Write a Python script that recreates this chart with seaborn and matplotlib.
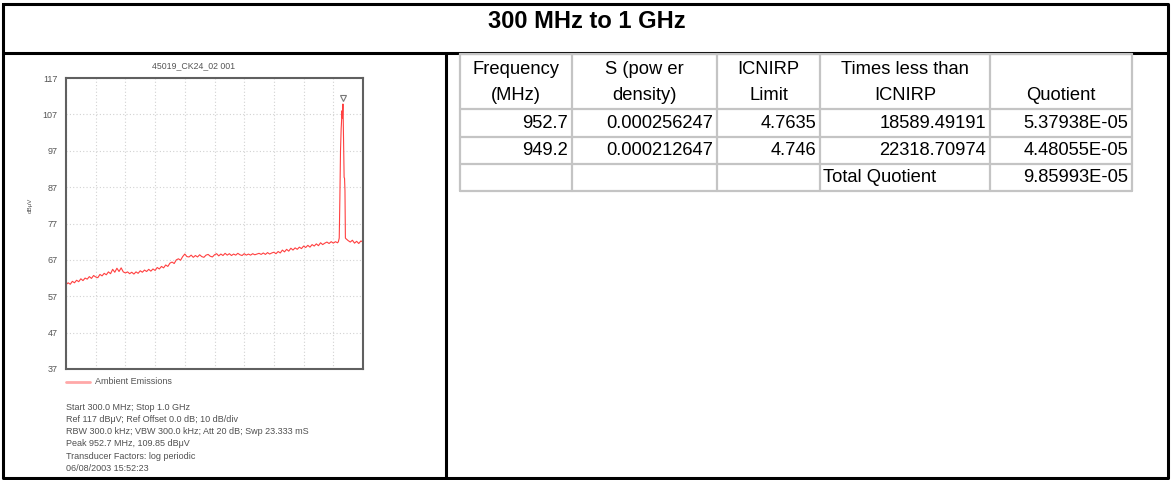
import matplotlib

matplotlib.use("Agg")
import matplotlib.pyplot as plt
import numpy as np
import pandas as pd
import seaborn as sns

W, H = 1171, 480

# spectrum trace, 5 MHz sweep steps from 300 to 940 MHz
sweep_start, sweep_step = 300, 5
base_levels = [
    60.2, 60.7, 60.3, 61.1, 60.7, 61.4, 61.0, 61.8, 61.3, 62.0,
    61.7, 62.4, 61.9, 62.7, 62.3, 62.1, 63.0, 62.6, 63.3, 62.9,
    63.7, 63.2, 64.4, 63.6, 64.7, 63.8, 64.8, 63.7, 63.4, 63.7,
    63.2, 63.6, 63.1, 63.7, 63.3, 64.0, 63.6, 64.2, 63.8, 64.4,
    63.9, 64.5, 64.1, 64.9, 64.5, 65.2, 64.8, 65.6, 65.2, 66.1,
    66.4, 66.0, 67.0, 67.3, 66.9, 67.9, 68.6, 67.9, 67.8, 68.3,
    67.7, 68.2, 67.8, 68.4, 67.9, 67.7, 68.3, 68.5, 68.0, 67.8,
    68.4, 68.7, 68.1, 68.6, 68.2, 68.8, 68.3, 68.7, 68.2, 68.6,
    68.3, 68.8, 68.4, 68.2, 68.7, 68.3, 68.6, 68.3, 68.7, 68.4,
    68.6, 68.8, 68.5, 68.9, 68.5, 69.0, 68.6, 68.9, 69.1, 68.7,
    69.3, 68.9, 69.7, 69.2, 69.9, 69.4, 70.2, 69.7, 70.3, 69.9,
    70.5, 70.1, 70.8, 70.4, 71.0, 70.5, 71.2, 70.8, 71.4, 70.9,
    71.7, 71.2, 71.6, 71.9, 71.5, 72.0, 71.6, 72.0, 71.7,
]
base_freqs = [sweep_start + sweep_step * i for i in range(len(base_levels))]

# peak region and top of band
peak_freqs = [942, 944, 945.5, 947, 948.5, 949.2, 950.5, 951.5, 952.7, 953.5, 954.5,
              955.5, 956.5, 957.5, 958.5, 960, 965, 970, 975, 980, 985, 990, 995, 1000]
peak_levels = [72.0, 73.0, 84.0, 97.0, 103.0, 104.5, 108.0, 106.0, 109.85, 105.0, 97.0,
               89.7, 89.4, 86.0, 73.0, 72.8, 72.3, 71.9, 72.4, 71.6, 72.1, 71.5,
               72.2, 71.9]

marker_freq, marker_level = 952.7, 111.6

y_ticks = [37, 47, 57, 67, 77, 87, 97, 107, 117]

trace_name = "45019_CK24_02 001"
legend_label = "Ambient Emissions"
info_lines = [
    "Start 300.0 MHz; Stop 1.0 GHz",
    "Ref 117 dB\u03bcV; Ref Offset 0.0 dB; 10 dB/div",
    "RBW 300.0 kHz; VBW 300.0 kHz; Att 20 dB; Swp 23.333 mS",
    "Peak 952.7 MHz, 109.85 dB\u03bcV",
    "Transducer Factors: log periodic",
    "06/08/2003 15:52:23",
]

# results table
headers = ["Frequency\n(MHz)", "S (pow er\ndensity)", "ICNIRP\nLimit",
           "Times less than\nICNIRP", "Quotient"]
freq_col = ["952.7", "949.2"]
s_col = ["0.000256247", "0.000212647"]
limit_col = ["4.7635", "4.746"]
times_col = ["18589.49191", "22318.70974"]
quot_col = ["5.37938E-05", "4.48055E-05"]
total_label = "Total Quotient"
total_value = "9.85993E-05"

sns.set_style("white")
plt.rcParams["font.family"] = ["Liberation Sans", "DejaVu Sans"]
plt.rcParams["text.color"] = "black"

fig = plt.figure(figsize=(W / 100, H / 100), dpi=100)

# background axes in pixel coordinates for frame and table
bg = fig.add_axes([0, 0, 1, 1])
bg.set_xlim(0, W)
bg.set_ylim(H, 0)
bg.axis("off")

# outer frame
bg.plot([3, 1168, 1168, 3, 3], [4, 4, 478, 478, 4], color="black", lw=2.2)
bg.plot([3, 1168], [53, 53], color="black", lw=2.2)
bg.plot([446, 446], [53, 478], color="black", lw=2.2)
bg.text(587, 21, "300 MHz to 1 GHz", ha="center", va="center",
        fontsize=17, fontweight="bold", color="black")

# table grid
col_x = [460, 572, 717, 820, 990, 1132]
row_y = [54, 109, 137, 164, 191]
grid_c = "#c4c4c4"
for x in col_x:
    bg.plot([x, x], [row_y[0], row_y[-1]], color=grid_c, lw=1.6)
for y in row_y:
    bg.plot([col_x[0], col_x[-1]], [y, y], color=grid_c, lw=1.6)

tfs = 13.2
for i, h in enumerate(headers):
    cx = (col_x[i] + col_x[i + 1]) / 2
    lines = h.split("\n")
    if len(lines) == 2:
        bg.text(cx, 69, lines[0], ha="center", va="center", fontsize=tfs)
        bg.text(cx, 95, lines[1], ha="center", va="center", fontsize=tfs)
    else:
        bg.text(cx, 95, lines[0], ha="center", va="center", fontsize=tfs)

columns = [freq_col, s_col, limit_col, times_col, quot_col]
for r in range(2):
    cy = (row_y[r + 1] + row_y[r + 2]) / 2
    for c, col in enumerate(columns):
        bg.text(col_x[c + 1] - 4, cy, col[r], ha="right", va="center", fontsize=tfs)
cy = (row_y[3] + row_y[4]) / 2
bg.text(col_x[3] + 3, cy, total_label, ha="left", va="center", fontsize=tfs)
bg.text(col_x[5] - 4, cy, total_value, ha="right", va="center", fontsize=tfs)

# spectrum plot
left, right, top, bottom = 66, 363, 78, 369
ax = fig.add_axes([left / W, 1 - bottom / H, (right - left) / W, (bottom - top) / H])
df = pd.DataFrame({"freq": base_freqs + peak_freqs, "level": base_levels + peak_levels})
sns.lineplot(data=df, x="freq", y="level", ax=ax, color="#ff4040", lw=0.8,
             estimator=None, sort=False)
ax.plot([marker_freq], [marker_level], marker="v", ms=4.5, mfc="white",
        mec="#777777", mew=0.8, ls="none")
ax.set_xlim(300, 1000)
ax.set_ylim(37, 117)
ax.set_xticks(np.linspace(300, 1000, 11))
ax.set_yticks(y_ticks)
ax.set_xticklabels([])
ax.tick_params(axis="both", length=0, labelsize=6.5, labelcolor="#555555", pad=6)
ax.tick_params(axis="x", pad=0)
ax.grid(True, color="#d2d2d2", ls=(0, (1, 2)), lw=0.8)
ax.set_xlabel("")
ax.set_ylabel("")
for s in ax.spines.values():
    s.set_color("#606060")
    s.set_linewidth(1.5)
    s.set_visible(True)

bg.text(194, 66, trace_name, ha="center", va="center", fontsize=6.3, color="#555555")
bg.text(30, 205, "dB\u03bcV", ha="center", va="center", rotation=90, fontsize=4.5,
        color="#555555")
bg.plot([66, 90], [382, 382], color="#ffa8a8", lw=2)
bg.text(95, 382, legend_label, ha="left", va="center", fontsize=6.5, color="#555555")
for k, line in enumerate(info_lines):
    bg.text(66, 407 + 12.3 * k, line, ha="left", va="center", fontsize=6.5,
            color="#505050")

fig.savefig("out.png", dpi=100)
